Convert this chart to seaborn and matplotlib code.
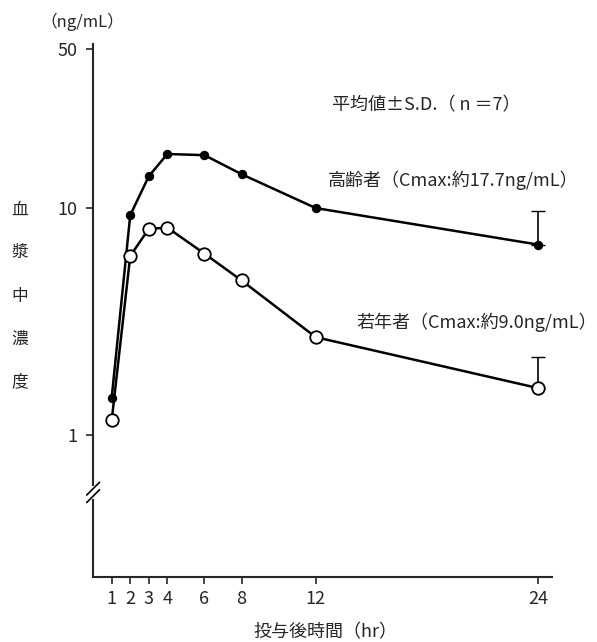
import numpy as np
import pandas as pd
import matplotlib
matplotlib.use("Agg")
import matplotlib.pyplot as plt
import seaborn as sns

sns.set_style("ticks")
plt.rcParams['font.family'] = ['Noto Sans CJK JP', 'DejaVu Sans']

# data
times = [1, 2, 3, 4, 6, 8, 12, 24]
elderly = [1.46, 9.3, 13.8, 17.3, 17.1, 14.1, 10.0, 6.9]
young = [1.16, 6.15, 8.1, 8.2, 6.3, 4.8, 2.7, 1.61]
elderly_sd_24 = 2.8
young_sd_24 = 0.6

xticks = [1, 2, 3, 4, 6, 8, 12, 24]
yticks = [1, 10, 50]
ylabel_chars = "血漿中濃度"

df = pd.DataFrame({"time": times, "elderly": elderly, "young": young})

fig = plt.figure(figsize=(5.97, 6.42), dpi=100)
ax = fig.add_axes([0.156, 0.101, 0.769, 0.8305])

sns.lineplot(data=df, x="time", y="elderly", ax=ax, color="black", lw=1.8,
             marker="o", markersize=6, markerfacecolor="black",
             markeredgecolor="black", zorder=3)
sns.lineplot(data=df, x="time", y="young", ax=ax, color="black", lw=1.8,
             marker="o", markersize=9, markerfacecolor="white",
             markeredgecolor="black", markeredgewidth=1.3, zorder=3)

# upper SD at 24 hr only
ax.errorbar([times[-1]], [elderly[-1]], yerr=[[0], [elderly_sd_24]],
            fmt="none", ecolor="black", elinewidth=1.2, capsize=5, zorder=2)
ax.errorbar([times[-1]], [young[-1]], yerr=[[0], [young_sd_24]],
            fmt="none", ecolor="black", elinewidth=1.2, capsize=5, zorder=2)

ax.set_yscale("log")
ax.set_xlim(0, 24.75)
ax.set_ylim(0.2368, 52.8)
ax.set_xticks(xticks)
ax.set_xticklabels([str(t) for t in xticks])
ax.set_yticks(yticks)
ax.set_yticklabels([str(t) for t in yticks])
ax.yaxis.set_minor_locator(matplotlib.ticker.NullLocator())
ax.tick_params(axis="both", direction="out", length=5, width=1.2,
               labelsize=13, pad=4)
ax.tick_params(axis="y", pad=6)
ax.set_xlabel("")
ax.set_ylabel("")
sns.despine(ax=ax)
for s in ["left", "bottom"]:
    ax.spines[s].set_linewidth(1.5)

# axis break mark
yb = 0.159
ax.add_patch(plt.Rectangle((-0.01, yb - 0.012), 0.02, 0.024, transform=ax.transAxes,
                           facecolor="white", edgecolor="none", clip_on=False, zorder=5))
for dy in (-0.007, 0.007):
    ax.plot([-0.014, 0.014], [yb + dy - 0.012, yb + dy + 0.012], transform=ax.transAxes,
            color="black", lw=1.2, clip_on=False, zorder=6)

# texts
fig.text(82 / 597, 1 - 22 / 642, "（ng/mL）", ha="center", va="center", fontsize=12)
for i, ch in enumerate(ylabel_chars):
    fig.text(20 / 597, 1 - (210 + 43 * i) / 642, ch, ha="center", va="center", fontsize=12)
fig.text(332 / 597, 1 - 105 / 642, "平均値±S.D.（ n ＝7）", ha="left", va="center", fontsize=13)
fig.text(328 / 597, 1 - 180 / 642, "高齢者（Cmax:約17.7ng/mL）", ha="left", va="center", fontsize=13)
fig.text(356 / 597, 1 - 322 / 642, "若年者（Cmax:約9.0ng/mL）", ha="left", va="center", fontsize=13)
fig.text(325 / 597, 1 - 632 / 642, "投与後時間（hr）", ha="center", va="center", fontsize=13)

fig.savefig("out.png", dpi=100)
